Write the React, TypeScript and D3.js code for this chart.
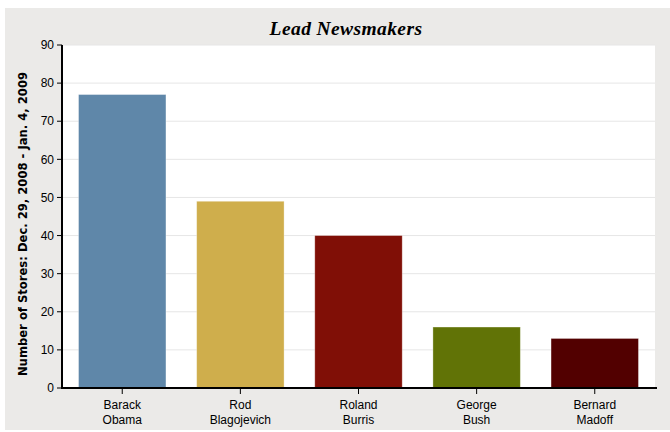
import React from "react";
import * as d3 from "d3";

const categories = ["Barack Obama", "Rod Blagojevich", "Roland Burris", "George Bush", "Bernard Madoff"];
const labelLines = [["Barack", "Obama"], ["Rod", "Blagojevich"], ["Roland", "Burris"], ["George", "Bush"], ["Bernard", "Madoff"]];
const values = [77, 49, 40, 16, 13];
const colors = ["#5f87a9", "#cfae4c", "#800f06", "#617306", "#520000"];
const yTicks = [0, 10, 20, 30, 40, 50, 60, 70, 80, 90];

export default function App() {
  const W = 670, H = 432;
  const left = 62, right = 655, top = 45, bottom = 388;
  const x = d3.scaleBand<string>().domain(categories).range([left, right]).paddingInner(0.26).paddingOuter(0.14);
  const y = d3.scaleLinear().domain([0, 90]).range([bottom, top]);
  const font = "'Liberation Sans', Arial, sans-serif";
  return (
    <svg width={W} height={H} style={{ position: "absolute", left: 0, top: 0 }}>
      <rect x={0} y={0} width={W} height={H} fill="#ffffff" />
      <rect x={5} y={8} width={665} height={422} fill="#ebeae8" />
      <rect x={left} y={top} width={right - left} height={bottom - top} fill="#ffffff" />
      {yTicks.map((t) => (
        <g key={t}>
          {t > 0 && <line x1={left} x2={right} y1={y(t)} y2={y(t)} stroke="#e6e6e6" strokeWidth={1} />}
          <line x1={left - 5} x2={left} y1={y(t)} y2={y(t)} stroke="#000" strokeWidth={1} />
          <text x={left - 8} y={y(t)} dy="0.35em" textAnchor="end" fontFamily={font} fontSize={12} fill="#000">{t}</text>
        </g>
      ))}
      {categories.map((c, i) => (
        <rect key={c} x={x(c)} y={y(values[i])} width={x.bandwidth()} height={bottom - y(values[i])} fill={colors[i]} stroke="#ffffff" strokeOpacity={0.4} strokeWidth={0.8} />
      ))}
      <line x1={left} x2={left} y1={top} y2={bottom + 1} stroke="#000" strokeWidth={2} />
      <line x1={left - 1} x2={right + 2} y1={bottom} y2={bottom} stroke="#000" strokeWidth={2} />
      {categories.map((c, i) => {
        const cx = (x(c) as number) + x.bandwidth() / 2;
        return (
          <g key={c}>
            <line x1={cx} x2={cx} y1={bottom} y2={bottom + 6} stroke="#000" strokeWidth={1} />
            {labelLines[i].map((l, j) => (
              <text key={j} x={cx} y={405 + j * 15} dy="0.35em" textAnchor="middle" fontFamily={font} fontSize={12} fill="#000">{l}</text>
            ))}
          </g>
        );
      })}
      <text x={346} y={35} textAnchor="middle" fontFamily="'Liberation Serif', 'Times New Roman', serif" fontStyle="italic" fontWeight="bold" fontSize={19.5} letterSpacing={0.4} fill="#000">Lead Newsmakers</text>
      <text transform={`translate(23,224) rotate(-90)`} textAnchor="middle" dy="0.35em" fontFamily="'DejaVu Sans', sans-serif" fontWeight="bold" fontSize={11.6} fill="#000">Number of Stores: Dec. 29, 2008 - Jan. 4, 2009</text>
    </svg>
  );
}
